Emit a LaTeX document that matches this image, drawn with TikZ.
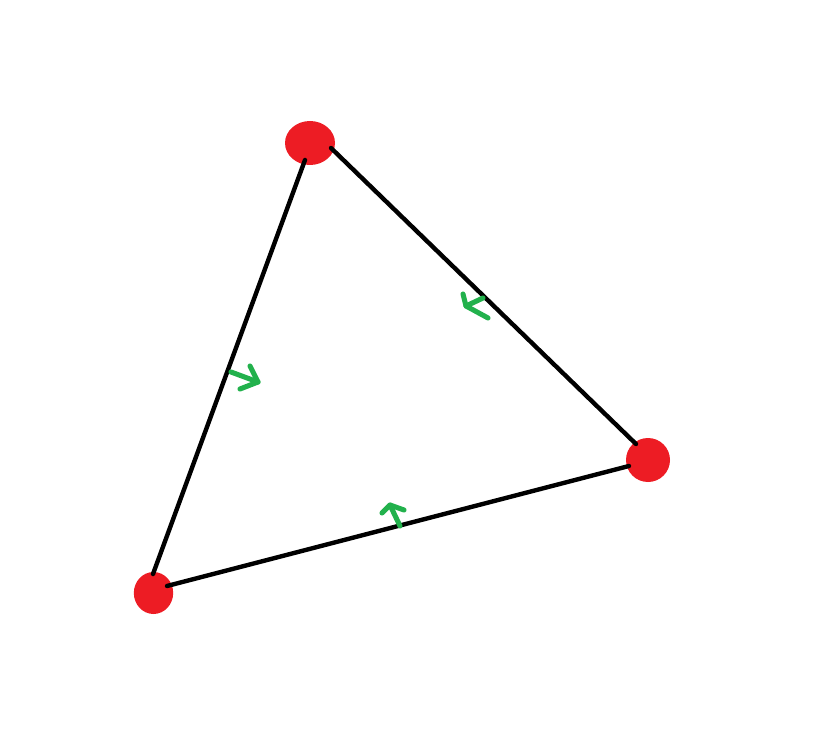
\documentclass[tikz,border=0pt]{standalone}
\usetikzlibrary{shapes.geometric}
\definecolor{dotred}{HTML}{ED1C24}
\definecolor{markgreen}{HTML}{22B14C}
\begin{document}
\begin{tikzpicture}[x=0.75pt,y=-0.75pt,
  vertex/.style={ellipse,fill=dotred,draw=none,inner sep=0pt},
  edge/.style={black,line width=3.3pt,line cap=round},
  normalmark/.style={markgreen,line width=3.8pt,line cap=round,line join=round}]
\useasboundingbox (0,0) rectangle (836,756);
\node[vertex,minimum width=37.5pt,minimum height=33pt] (A) at (310,143) {};
\node[vertex,minimum width=33pt,minimum height=33pt] (B) at (648,460) {};
\node[vertex,minimum width=29.5pt,minimum height=31.5pt] (C) at (153.5,593) {};
% edge end points
\coordinate (A1) at (305,160);
\coordinate (A2) at (331,148);
\coordinate (B1) at (636,444);
\coordinate (B2) at (629,466);
\coordinate (C1) at (153,574);
\coordinate (C2) at (167,586);
\draw[edge] (A1) -- (C1);
\draw[edge] (A2) -- (B1);
\draw[edge] (C2) -- (B2);
% green marks
\coordinate (m1s) at (231,372); \coordinate (m1t) at (258,382);
\coordinate (m1a) at (250,366); \coordinate (m1b) at (240,389);
\draw[normalmark] (m1s) -- (m1t);
\draw[normalmark] (m1a) -- (m1t) -- (m1b);
\coordinate (m2s) at (488,318); \coordinate (m2t) at (466,306);
\coordinate (m2a) at (463,294); \coordinate (m2b) at (483,298);
\draw[normalmark] (m2s) -- (m2t);
\draw[normalmark] (m2a) -- (m2t) -- (m2b);
\coordinate (m3s) at (400,526); \coordinate (m3t) at (390,505);
\coordinate (m3a) at (382,513); \coordinate (m3b) at (404,510);
\draw[normalmark] (m3s) -- (m3t);
\draw[normalmark] (m3a) -- (m3t) -- (m3b);
\end{tikzpicture}
\end{document}
